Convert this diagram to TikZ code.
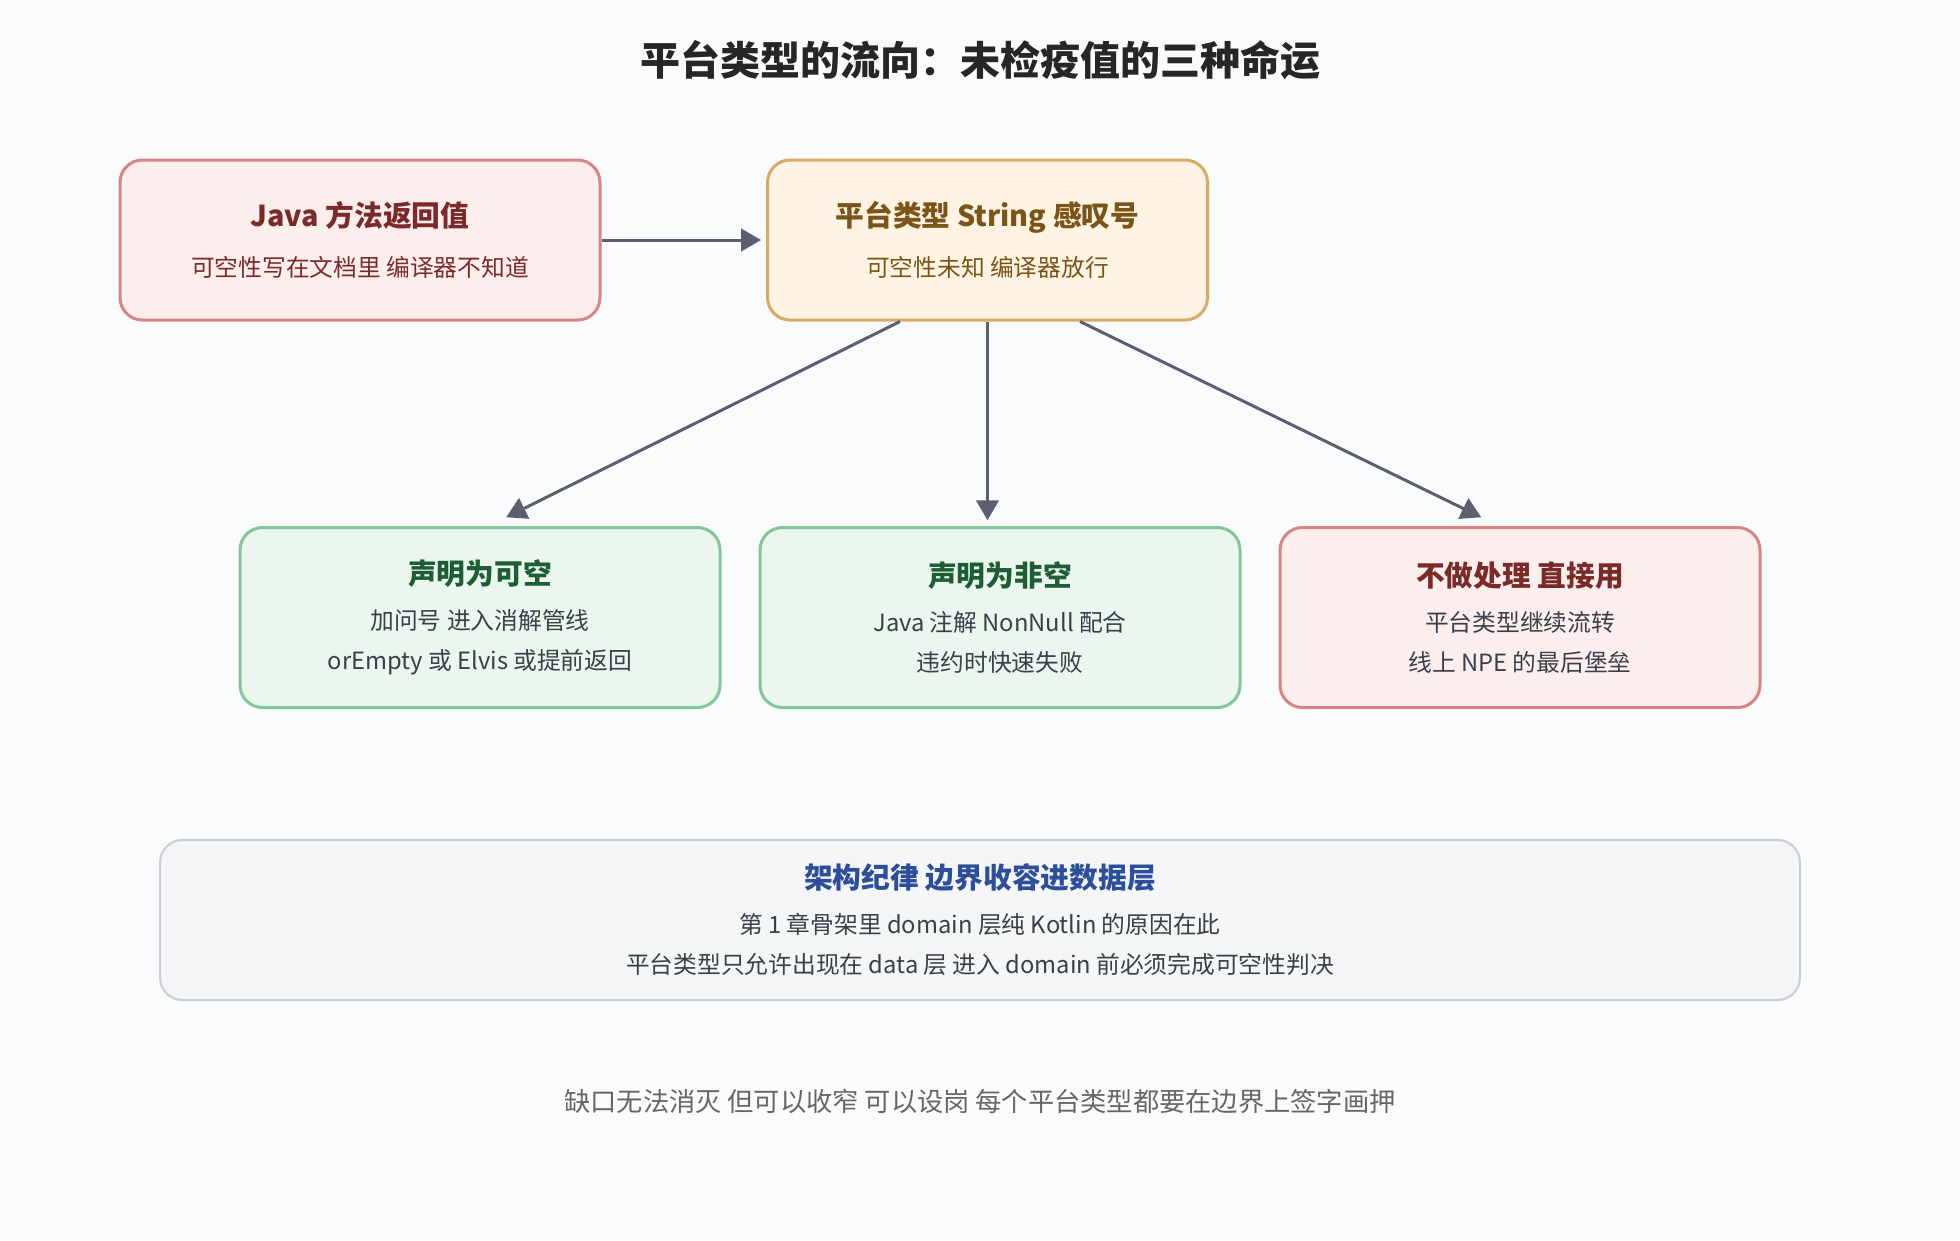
\documentclass[tikz,border=0pt]{standalone}
\usepackage{fontspec}
\setmainfont{Noto Sans CJK SC}
\usetikzlibrary{arrows.meta,calc}
\definecolor{bgc}{HTML}{FAFBFD}
\definecolor{redfill}{HTML}{FDEEEE}
\definecolor{redline}{HTML}{D98484}
\definecolor{redtext}{HTML}{7B2A2A}
\definecolor{orgfill}{HTML}{FFF3E3}
\definecolor{orgline}{HTML}{D9AA66}
\definecolor{orgtext}{HTML}{7A5418}
\definecolor{grnfill}{HTML}{EAF6EE}
\definecolor{grnline}{HTML}{82C69A}
\definecolor{grntext}{HTML}{1E5E34}
\definecolor{gryfill}{HTML}{F5F6F8}
\definecolor{gryline}{HTML}{C8CDD8}
\definecolor{blutext}{HTML}{2D4E9A}
\definecolor{arrowc}{HTML}{5A6070}
\definecolor{bodytext}{HTML}{3A3F4A}

\tikzset{
  box/.style={draw,line width=1.2pt,rounded corners=9pt,align=center,
    font=\fontsize{9.5}{16}\selectfont,inner sep=0pt},
  redbox/.style={box,fill=redfill,draw=redline,text=redtext},
  orgbox/.style={box,fill=orgfill,draw=orgline,text=orgtext},
  grnbox/.style={box,fill=grnfill,draw=grnline,text=bodytext},
  flow/.style={draw=arrowc,line width=1.2pt,-{Triangle[length=8pt,width=9pt]}},
}
\newcommand{\boxhead}[2]{\textcolor{#1}{\fontsize{11.5}{16}\selectfont\bfseries #2}}

\begin{document}
\begin{tikzpicture}[x=0.5pt,y=-0.5pt]
\fill[bgc] (0,0) rectangle (1568,992);
\useasboundingbox (0,0) rectangle (1568,992);

\node[text=black!85,font=\fontsize{16}{20}\selectfont\bfseries] (title) at (784,48) {平台类型的流向：未检疫值的三种命运};

% top row
\node[redbox,minimum width=192pt,minimum height=64pt] (java) at (288,192)
  {\boxhead{redtext}{Java 方法返回值}\\[4pt]\textcolor{redtext}{可空性写在文档里 编译器不知道}};
\node[orgbox,minimum width=176pt,minimum height=64pt] (plat) at (790,192)
  {\boxhead{orgtext}{平台类型 String 感叹号}\\[4pt]\textcolor{orgtext}{可空性未知 编译器放行}};

% three fates
\node[grnbox,minimum width=192pt,minimum height=72pt] (nullable) at (384,494)
  {\boxhead{grntext}{声明为可空}\\[2pt]加问号 进入消解管线\\orEmpty 或 Elvis 或提前返回};
\node[grnbox,minimum width=192pt,minimum height=72pt] (nonnull) at (800,494)
  {\boxhead{grntext}{声明为非空}\\[2pt]Java 注解 NonNull 配合\\违约时快速失败};
\node[redbox,minimum width=192pt,minimum height=72pt,text=bodytext] (raw) at (1216,494)
  {\boxhead{redtext}{不做处理 直接用}\\[2pt]平台类型继续流转\\线上 NPE 的最后堡垒};

\draw[flow] (java.east) -- ($(plat.west)+(-4,0)$);
\draw[flow] ($(plat.south)+(-70,0)$) -- ($(nullable.north)+(21,-7)$);
\draw[flow] (plat.south) -- ($(plat.south)+(0,159)$);
\draw[flow] ($(plat.south)+(74,0)$) -- ($(raw.north)+(-31,-7)$);

% discipline
\node[box,fill=gryfill,draw=gryline,line width=0.8pt,text=bodytext,minimum width=656pt,minimum height=64pt] (rule) at (784,736)
  {\boxhead{blutext}{架构纪律 边界收容进数据层}\\[2pt]第 1 章骨架里 domain 层纯 Kotlin 的原因在此\\平台类型只允许出现在 data 层 进入 domain 前必须完成可空性判决};

\node[text=black!60,font=\fontsize{10.5}{14}\selectfont] (foot) at (784,881) {缺口无法消灭 但可以收窄 可以设岗 每个平台类型都要在边界上签字画押};
\end{tikzpicture}
\end{document}
